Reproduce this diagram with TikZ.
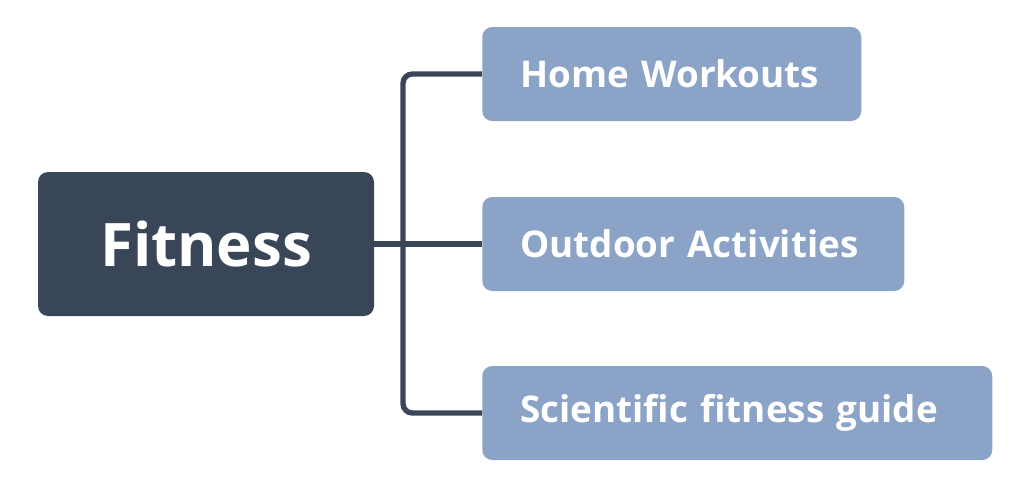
\documentclass[tikz,border=0pt]{standalone}
\usepackage{fontspec}
\setmainfont{Open Sans}
\newfontfamily\rootfont{Open Sans}
\definecolor{darkbox}{HTML}{394658}
\definecolor{lightbox}{HTML}{8AA3C6}
\definecolor{linecol}{HTML}{394658}
\begin{document}
\begin{tikzpicture}[x=0.75pt,y=-0.75pt,
  rootbox/.style={fill=darkbox, rounded corners=7.5pt, text=white, font=\rootfont\bfseries\fontsize{45}{50}\selectfont, minimum width=252pt, minimum height=108pt, inner sep=0pt},
  childbox/.style={fill=lightbox, rounded corners=7.5pt, text=white, font=\fontsize{27.6}{32}\selectfont\bfseries, minimum height=70.5pt, inner ysep=0pt, inner xsep=28.5pt, align=left, anchor=west},
  conn/.style={draw=linecol, line width=4pt, rounded corners=7pt}]
\useasboundingbox (0,0) rectangle (1026,500);
\node[rootbox] (root) at (206,244) {Fitness};
\node[childbox, text width=284.25pt-57pt] (home) at (482,74) {Home Workouts};
\node[childbox, text width=316.5pt-57pt] (out) at (482,244) {Outdoor Activities};
\node[childbox, text width=382.5pt-57pt] (sci) at (482,413) {Scientific fitness guide};
\coordinate (bus) at (403,244);
\draw[conn] (root.east) -- (out.west);
\draw[conn] (home.west) -| (bus) |- (sci.west);
\end{tikzpicture}
\end{document}
